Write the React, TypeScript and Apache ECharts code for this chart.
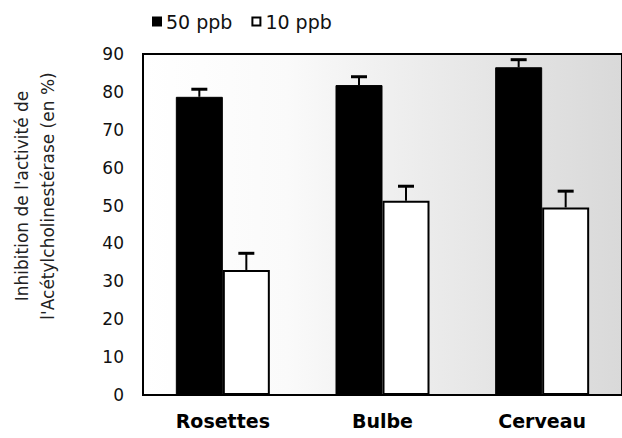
import React, { useEffect, useRef } from "react";
import * as echarts from "echarts";

const categories = ["Rosettes", "Bulbe", "Cerveau"];
const seriesNames = ["50 ppb", "10 ppb"];
const values50 = [78.7, 81.8, 86.5];
const errors50 = [2.0, 2.2, 2.0];
const values10 = [33.0, 51.3, 49.5];
const errors10 = [4.4, 3.8, 4.3];
const yTitleLines = ["Inhibition de l'activité de", "l'Acétylcholinestérase (en %)"];

const BAR_W = 47;

function errorSeries(name: string, values: number[], errors: number[], offset: number) {
  return {
    type: "custom",
    name,
    z: 5,
    encode: { x: 0, y: 1 },
    data: values.map((v, i) => [i, v, errors[i]]),
    renderItem: (params: any, api: any) => {
      const idx = api.value(0);
      const v = api.value(1);
      const e = api.value(2);
      const base = api.coord([idx, v]);
      const top = api.coord([idx, v + e]);
      const cx = base[0] + offset;
      return {
        type: "group",
        children: [
          {
            type: "line",
            shape: { x1: cx, y1: base[1], x2: cx, y2: top[1] },
            style: { stroke: "#000", lineWidth: 2 },
          },
          {
            type: "line",
            shape: { x1: cx - 8, y1: top[1], x2: cx + 8, y2: top[1] },
            style: { stroke: "#000", lineWidth: 3 },
          },
        ],
      };
    },
  };
}

export default function App() {
  const ref = useRef<HTMLDivElement>(null);
  useEffect(() => {
    if (!ref.current) return;
    const chart = echarts.init(ref.current, null, { renderer: "svg" });
    chart.setOption({
      animation: false,
      backgroundColor: "#fff",
      textStyle: { fontFamily: "DejaVu Sans" },
      legend: {
        data: seriesNames,
        left: 147,
        top: 7,
        itemGap: 19,
        itemWidth: 8,
        itemHeight: 8,
        icon: "rect",
        textStyle: {
          fontFamily: "DejaVu Sans",
          fontSize: 19,
          color: "#111",
        },
      },
      grid: {
        left: 143,
        right: -2,
        top: 54,
        bottom: 43,
        show: true,
        borderColor: "#000",
        borderWidth: 2,
        backgroundColor: {
          type: "linear",
          x: 0,
          y: 0,
          x2: 1,
          y2: 0,
          colorStops: [
            { offset: 0, color: "#ffffff" },
            { offset: 0.3, color: "#fafafa" },
            { offset: 0.6, color: "#ebebeb" },
            { offset: 1, color: "#d9d9d9" },
          ],
        },
      },
      xAxis: {
        type: "category",
        data: categories,
        axisLine: { lineStyle: { color: "#000", width: 2 } },
        axisTick: { show: false },
        axisLabel: {
          margin: 16,
          fontFamily: "DejaVu Sans",
          fontWeight: "bold",
          fontSize: 19,
          color: "#000",
        },
      },
      yAxis: {
        type: "value",
        min: 0,
        max: 90,
        interval: 10,
        axisLine: { show: true, lineStyle: { color: "#000", width: 2 } },
        axisTick: { show: false },
        splitLine: { show: false },
        axisLabel: {
          margin: 19,
          fontFamily: "DejaVu Sans",
          fontSize: 17,
          color: "#111",
        },
      },
      graphic: yTitleLines.map((t, i) => ({
        type: "text",
        x: 22 + i * 26,
        y: 196,
        rotation: Math.PI / 2,
        style: {
          text: t,
          textAlign: "center",
          textVerticalAlign: "middle",
          fontFamily: "DejaVu Sans",
          fontSize: 17,
          fill: "#222",
        },
      })),
      series: [
        {
          type: "bar",
          name: seriesNames[0],
          data: values50,
          barWidth: BAR_W,
          barGap: "0%",
          itemStyle: { color: "#000", borderColor: "#000", borderWidth: 1 },
        },
        {
          type: "bar",
          name: seriesNames[1],
          data: values10,
          barWidth: BAR_W,
          barGap: "0%",
          itemStyle: { color: "#fff", borderColor: "#000", borderWidth: 2 },
        },
        errorSeries("err50", values50, errors50, -BAR_W / 2),
        errorSeries("err10", values10, errors10, BAR_W / 2),
      ],
    });
    return () => chart.dispose();
  }, []);
  return (
    <div
      ref={ref}
      style={{ position: "fixed", left: 0, top: 0, width: 622, height: 438 }}
    />
  );
}
